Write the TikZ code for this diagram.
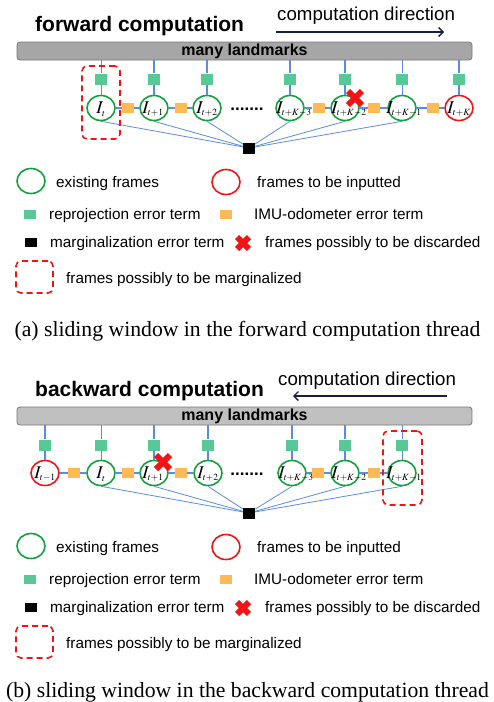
\documentclass[tikz,border=0pt]{standalone}
\usepackage{mathptmx}
\usepackage{fontspec}
\setmainfont{Liberation Serif}
\setsansfont{Liberation Sans}
\DeclareMathSizes{18}{18}{9.5}{7}
\usetikzlibrary{arrows.meta,shapes.geometric}
\definecolor{frameGreen}{RGB}{20,160,60}
\definecolor{frameRed}{RGB}{240,20,20}
\definecolor{reproj}{RGB}{88,200,150}
\definecolor{imuor}{RGB}{255,185,85}
\definecolor{linkblue}{RGB}{90,140,225}
\definecolor{barfillA}{RGB}{166,166,166}
\definecolor{barfillB}{RGB}{192,192,192}
\definecolor{barline}{RGB}{120,120,120}
\definecolor{arrnavy}{RGB}{25,30,60}
\tikzset{
  frm/.style={draw, ellipse, line width=1.6pt, minimum width=28pt, minimum height=25pt, inner sep=0pt},
  reprojsq/.style={fill=reproj, minimum width=12pt, minimum height=11pt, inner sep=0pt},
  imusq/.style={fill=imuor, minimum width=12pt, minimum height=10pt, inner sep=0pt},
  margsq/.style={fill=black, minimum width=12pt, minimum height=11pt, inner sep=0pt},
  vlink/.style={linkblue, line width=1.6pt},
  vthin/.style={linkblue, line width=0.8pt},
  hlink/.style={linkblue, line width=1.2pt},
  dlink/.style={linkblue, line width=0.8pt},
  lbl/.style={font=\fontsize{18}{18}\selectfont, inner sep=0pt},
  legtxt/.style={font=\sffamily\fontsize{15.3}{15.3}\selectfont, anchor=base west, inner sep=0pt},
  margbox/.style={draw=frameRed, dash pattern=on 6pt off 4pt, line width=1.6pt, rounded corners=5pt, inner sep=0pt},
  landbar/.style={draw=barline, rounded corners=3pt, line width=0.8pt, minimum width=455pt, minimum height=18pt, inner sep=0pt, font=\sffamily\bfseries\fontsize{16}{16}\selectfont},
  titletxt/.style={font=\sffamily\bfseries\fontsize{21}{21}\selectfont, anchor=base west, inner sep=0pt},
  dirtxt/.style={font=\sffamily\fontsize{18.7}{18.7}\selectfont, anchor=base west, inner sep=0pt},
  dirarrow/.style={arrnavy, line width=1.3pt, -{Straight Barb[length=4.5pt,width=9pt]}},
  dotstxt/.style={font=\sffamily\bfseries\fontsize{17}{17}\selectfont, anchor=base, inner sep=0pt},
  captxt/.style={font=\fontsize{21.7}{21.7}\selectfont, anchor=base, inner sep=0pt},
  redx/.pic={\draw[frameRed, line width=6pt] (-7,-7) -- (7,7) (-7,7) -- (7,-7);}
}
\begin{document}
\begin{tikzpicture}[x=1pt,y=-1pt]
\useasboundingbox (0,0) rectangle (494,702);

% ================= panel (a) =================
\begin{scope}
\node[titletxt] (titlea) at (35,31) {forward computation};
\node[dirtxt] (dira) at (277,20) {computation direction};
\coordinate (dirAs) at (276,32);
\coordinate (dirAe) at (444,32);
\draw[dirarrow] (dirAs) -- (dirAe);
\node[landbar, fill=barfillA] (bara) at (244.5,51) {many landmarks};

\foreach \i/\x/\c in {0/101/frameGreen,1/154/frameGreen,2/207/frameGreen,3/290/frameGreen,4/345/frameGreen,5/402/frameGreen,6/459/frameRed}{
  \node[frm, draw=\c] (a\i) at (\x,108) {};
  \node[reprojsq] (ga\i) at (\x,79) {};
}
\foreach \j/\x in {1/128,2/181,3/318.5,4/374,5/433}{
  \node[imusq] (oa\j) at (\x,108) {};
}
\node[margsq] (blka) at (249,148) {};
\node[dotstxt] (dotsa) at (247,110) {.......};

\node[lbl] (la0) at (101,109) {$I_{t}$};
\node[lbl] (la1) at (153,109) {$I_{t+1}$};
\node[lbl] (la2) at (207,109) {$I_{t+2}$};
\node[lbl] (la3) at (294,109) {$I_{t+K-3}$};
\node[lbl] (la4) at (349,109) {$I_{t+K-2}$};
\node[lbl] (la5) at (404,109) {$I_{t+K-1}$};
\node[lbl] (la6) at (459,109) {$I_{t+K}$};

\foreach \i in {1,2,3,4,6}{
  \draw[vlink] (bara.south -| ga\i) -- (ga\i) -- (a\i);
}
\foreach \i in {0,5}{
  \draw[vthin] (bara.south -| ga\i) -- (ga\i) -- (a\i);
}
\draw[hlink] (a0) -- (oa1) -- (a1);
\draw[hlink] (a1) -- (oa2) -- (a2);
\draw[hlink] (a3) -- (oa3) -- (a4);
\draw[hlink] (a4) -- (oa4) -- (a5);
\draw[hlink] (a5) -- (oa5) -- (a6);
\foreach \i in {0,...,5}{
  \draw[dlink] (a\i.south) -- (blka);
}
\node[margbox, minimum width=38pt, minimum height=73pt] (boxa) at (101,102.5) {};
\pic at (355,98) {redx};

% legend
\node[frm, draw=frameGreen] (lga1) at (31,181) {};
\node[legtxt] (lta1) at (56,187) {existing frames};
\node[frm, draw=frameRed] (lga2) at (226,182) {};
\node[legtxt] (lta2) at (257,187) {frames to be inputted};
\node[reprojsq, minimum height=9pt] (lga3) at (30,214) {};
\node[legtxt] (lta3) at (49,219) {reprojection error term};
\node[imusq, minimum height=9pt] (lga4) at (226,214) {};
\node[legtxt] (lta4) at (254,219) {IMU-odometer error term};
\node[margsq, minimum height=9pt] (lga5) at (31,242) {};
\node[legtxt] (lta5) at (50,247) {marginalization error term};
\pic[scale=0.85] at (243,243) {redx};
\node[legtxt] (lta6) at (265,247) {frames possibly to be discarded};
\node[margbox, minimum width=37pt, minimum height=32pt] (lga7) at (34.5,277) {};
\node[legtxt] (lta7) at (66,283) {frames possibly to be marginalized};
\end{scope}
\node[captxt] (capa) at (247.5,336) {(a) sliding window in the forward computation thread};

% ================= panel (b) =================
\begin{scope}[shift={(0,365)}]
\node[titletxt] (titleb) at (35,31) {backward computation};
\node[dirtxt] (dirb) at (278,20) {computation direction};
\coordinate (dirBs) at (447,31);
\coordinate (dirBe) at (293,31);
\draw[dirarrow] (dirBs) -- (dirBe);
\node[landbar, fill=barfillB] (barb) at (244.5,51) {many landmarks};

\foreach \i/\x/\c in {0/45/frameRed,1/101/frameGreen,2/154/frameGreen,3/208/frameGreen,4/292/frameGreen,5/345/frameGreen,6/402/frameGreen}{
  \node[frm, draw=\c] (b\i) at (\x,108) {};
  \node[reprojsq] (gb\i) at (\x,80) {};
}
\foreach \j/\x in {1/74,2/128,3/181,4/318,5/374}{
  \node[imusq] (ob\j) at (\x,108) {};
}
\node[margsq] (blkb) at (249,148) {};
\node[dotstxt] (dotsb) at (247,110) {.......};

\node[lbl] (lb0) at (45,109) {$I_{t-1}$};
\node[lbl] (lb1) at (101,109) {$I_{t}$};
\node[lbl] (lb2) at (153,109) {$I_{t+1}$};
\node[lbl] (lb3) at (208,109) {$I_{t+2}$};
\node[lbl] (lb4) at (296,109) {$I_{t+K-3}$};
\node[lbl] (lb5) at (349,109) {$I_{t+K-2}$};
\node[lbl] (lb6) at (404,109) {$I_{t+K-1}$};

\foreach \i in {0,2,3,4,5}{
  \draw[vlink] (barb.south -| gb\i) -- (gb\i) -- (b\i);
}
\foreach \i in {1,6}{
  \draw[vthin] (barb.south -| gb\i) -- (gb\i) -- (b\i);
}
\draw[hlink] (b0) -- (ob1) -- (b1);
\draw[hlink] (b1) -- (ob2) -- (b2);
\draw[hlink] (b2) -- (ob3) -- (b3);
\draw[hlink] (b4) -- (ob4) -- (b5);
\draw[hlink] (b5) -- (ob5) -- (b6);
\foreach \i in {1,...,6}{
  \draw[dlink] (b\i.south) -- (blkb);
}
\node[margbox, minimum width=39pt, minimum height=74pt] (boxb) at (402.5,103) {};
\pic at (163,97) {redx};

% legend
\node[frm, draw=frameGreen] (lgb1) at (31,181) {};
\node[legtxt] (ltb1) at (56,187) {existing frames};
\node[frm, draw=frameRed] (lgb2) at (226,182) {};
\node[legtxt] (ltb2) at (257,187) {frames to be inputted};
\node[reprojsq, minimum height=9pt] (lgb3) at (30,214) {};
\node[legtxt] (ltb3) at (49,219) {reprojection error term};
\node[imusq, minimum height=9pt] (lgb4) at (226,214) {};
\node[legtxt] (ltb4) at (254,219) {IMU-odometer error term};
\node[margsq, minimum height=9pt] (lgb5) at (31,242) {};
\node[legtxt] (ltb5) at (50,247) {marginalization error term};
\pic[scale=0.85] at (243,243) {redx};
\node[legtxt] (ltb6) at (265,247) {frames possibly to be discarded};
\node[margbox, minimum width=37pt, minimum height=32pt] (lgb7) at (34.5,277) {};
\node[legtxt] (ltb7) at (66,283) {frames possibly to be marginalized};
\end{scope}
\node[captxt] (capb) at (247.5,697) {(b) sliding window in the backward computation thread};
\end{tikzpicture}
\end{document}
